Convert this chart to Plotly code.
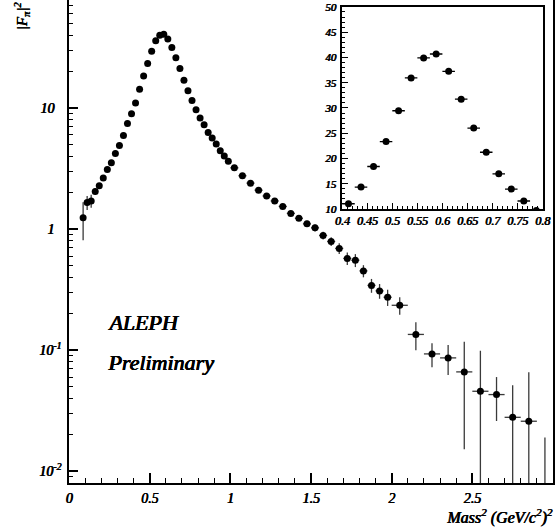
import plotly.graph_objects as go

# ---------------- data ----------------
mass2 = [0.0875, 0.1125, 0.1375, 0.1625, 0.1875, 0.2125, 0.2375, 0.2625, 0.2875, 0.3125,
         0.3375, 0.3625, 0.3875, 0.4125, 0.4375, 0.4625, 0.4875, 0.5125, 0.5375, 0.5625,
         0.5875, 0.6125, 0.6375, 0.6625, 0.6875, 0.7125, 0.7375, 0.7625, 0.7875, 0.8125,
         0.8375, 0.8625, 0.8875, 0.9125, 0.9375, 0.9625, 0.9875,
         1.025, 1.075, 1.125, 1.175, 1.225, 1.275, 1.325, 1.375, 1.425, 1.475,
         1.525, 1.575, 1.625, 1.675, 1.725, 1.775, 1.825, 1.875, 1.925, 1.975,
         2.05, 2.15, 2.25, 2.35, 2.45, 2.55, 2.65, 2.75, 2.85, 2.95]

half_bin = [0.0125] * 37 + [0.025] * 20 + [0.05] * 10

ff2 = [1.24, 1.66, 1.71, 2.05, 2.28, 2.64, 3.11, 3.53, 4.22, 4.92,
       5.95, 7.47, 8.97, 11.04, 14.33, 18.41, 23.34, 29.45, 35.95, 39.9,
       40.68, 37.25, 31.73, 26.02, 21.23, 16.96, 13.94, 11.58, 9.68, 8.27,
       7.28, 6.30, 5.65, 5.04, 4.44, 4.03, 3.63,
       3.21, 2.76, 2.40, 2.10, 1.88, 1.71, 1.54, 1.35, 1.23, 1.106,
       1.025, 0.887, 0.791, 0.693, 0.573, 0.554, 0.452, 0.343, 0.309, 0.274,
       0.235, 0.135, 0.0932, 0.0864, 0.0662, 0.0458, 0.0430, 0.0279, 0.0259, 0.004]

ff2_err = [0.43, 0.22, 0.21, 0.13, 0.12, 0.10, 0.10, 0.08, 0.08, 0.08,
           0.09, 0.10, 0.11, 0.14, 0.17, 0.22, 0.28, 0.35, 0.42, 0.47,
           0.48, 0.44, 0.38, 0.31, 0.26, 0.21, 0.17, 0.14, 0.12, 0.11,
           0.10, 0.09, 0.08, 0.08, 0.07, 0.07, 0.07,
           0.06, 0.055, 0.05, 0.05, 0.05, 0.05, 0.05, 0.05, 0.06, 0.065,
           0.07, 0.065, 0.065, 0.07, 0.067, 0.068, 0.052, 0.045, 0.043, 0.042,
           0.039, 0.035, 0.021, 0.024, 0.051, 0.053, 0.017, 0.0235, 0.040, 0.015]

# inset window (zoom on the rho peak)
inset_x_range = [0.4, 0.8]
inset_y_range = [10, 50]
inset_x_ticks = [0.4, 0.45, 0.5, 0.55, 0.6, 0.65, 0.7, 0.75, 0.8]
inset_x_labels = ["0.4", "0.45", "0.5", "0.55", "0.6", "0.65", "0.7", "0.75", "0.8"]
inset_y_ticks = [10, 15, 20, 25, 30, 35, 40, 45, 50]
inset_y_labels = ["10", "15", "20", "25", "30", "35", "40", "45", "50"]

y_tickvals = [0.01, 0.1, 1, 10]
y_ticktext = ["10<sup>-2</sup>", "10<sup>-1</sup>", "1&nbsp;&nbsp;", "10&nbsp;&nbsp;"]
x_tickvals = [0, 0.5, 1, 1.5, 2, 2.5, 3]
x_ticktext = ["0", "0.5", "1", "1.5", "2", "2.5", "3"]
y_minor = [m * 10 ** e for e in (-3, -2, -1, 0, 1) for m in range(2, 10)]

ins_idx = [i for i, v in enumerate(mass2) if inset_x_range[0] < v < inset_x_range[1]]
ins_x = [mass2[i] for i in ins_idx]
ins_y = [ff2[i] for i in ins_idx]
ins_dx = [half_bin[i] for i in ins_idx]
ins_dy = [ff2_err[i] for i in ins_idx]

# ---------------- figure ----------------
# Times-like italic; weight emulated with a tight text shadow (no bold-italic face installed)
FONT = "Liberation Serif"
EMB = "0.45px 0 0 #000, 0.9px 0 0 #000, 0.45px 0.3px 0 #000"
EMB_S = "0.4px 0 0 #000, 0.7px 0 0 #000"
fnt = lambda s, sh=EMB: dict(family=FONT, size=s, color="black", weight="normal",
                             style="italic", shadow=sh)
ERRC = "#3a3a3a"

fig = go.Figure()

fig.add_trace(go.Scatter(
    x=mass2, y=ff2, mode="markers",
    marker=dict(color="black", size=7),
    error_y=dict(type="data", array=ff2_err, color=ERRC, thickness=1.3, width=0),
    error_x=dict(type="data", array=half_bin, color=ERRC, thickness=1.3, width=0),
    xaxis="x", yaxis="y", showlegend=False,
))

fig.add_trace(go.Scatter(
    x=ins_x, y=ins_y, mode="markers",
    marker=dict(color="black", size=7),
    error_y=dict(type="data", array=ins_dy, color=ERRC, thickness=1.3, width=0),
    error_x=dict(type="data", array=ins_dx, color="black", thickness=1.3, width=0),
    xaxis="x2", yaxis="y2", showlegend=False,
))

fig.update_layout(
    width=555, height=528,
    margin=dict(l=69, r=2, t=0, b=45, autoexpand=False),
    paper_bgcolor="white", plot_bgcolor="white",
    font=fnt(13),
    xaxis=dict(
        range=[0, 3], showgrid=False, zeroline=False,
        showline=True, linecolor="black", linewidth=2,
        ticks="inside", ticklen=10, tickwidth=1.5, tickcolor="black",
        tickvals=x_tickvals, ticktext=x_ticktext, tickfont=fnt(14, EMB_S),
        minor=dict(ticks="inside", ticklen=5, tickwidth=1.2, tickcolor="black",
                   dtick=0.1, tick0=0, showgrid=False),
        ticklabelstandoff=1,
    ),
    yaxis=dict(
        type="log", range=[-2.097, 1.893], showgrid=False, zeroline=False,
        showline=True, linecolor="black", linewidth=2, mirror=True,
        ticks="inside", ticklen=9, tickwidth=1.5, tickcolor="black",
        tickvals=y_tickvals, ticktext=y_ticktext, tickfont=fnt(14, EMB_S),
        minor=dict(ticks="inside", ticklen=4, tickwidth=1.2, tickcolor="black",
                   tickvals=y_minor, showgrid=False),
        ticklabelstandoff=3,
    ),
    xaxis2=dict(
        domain=[0.564, 0.979], anchor="y2", range=[0.3995, 0.8005],
        showgrid=False, zeroline=False, showline=True, linecolor="black",
        linewidth=1.5, mirror=True,
        ticks="inside", ticklen=6, tickwidth=1, tickcolor="black",
        tickvals=inset_x_ticks, ticktext=inset_x_labels, tickfont=fnt(12, EMB_S),
        minor=dict(ticks="inside", ticklen=3, tickwidth=1, tickcolor="black",
                   dtick=0.01, tick0=0.4, showgrid=False),
        ticklabelstandoff=0, ticklabeloverflow="allow",
    ),
    yaxis2=dict(
        domain=[0.567, 0.986], anchor="x2", range=[9.97, 50.03],
        showgrid=False, zeroline=False, showline=True, linecolor="black",
        linewidth=1.5, mirror=True,
        ticks="inside", ticklen=6, tickwidth=1, tickcolor="black",
        tickvals=inset_y_ticks, ticktext=inset_y_labels, tickfont=fnt(11, EMB_S),
        minor=dict(ticks="inside", ticklen=3, tickwidth=1, tickcolor="black",
                   dtick=1, tick0=10, showgrid=False),
        ticklabelstandoff=2, ticklabeloverflow="allow",
    ),
    annotations=[
        dict(text="ALEPH", xref="paper", yref="paper", x=0.074, y=0.333,
             xanchor="left", yanchor="middle", showarrow=False, font=fnt(22)),
        dict(text="Preliminary", xref="paper", yref="paper", x=0.074, y=0.2505,
             xanchor="left", yanchor="middle", showarrow=False, font=fnt(22)),
        dict(text="Mass<sup>2</sup> (GeV/c<sup>2</sup>)<sup>2</sup>", xref="paper", yref="paper",
             x=1.004, y=-0.07, xanchor="right", yanchor="middle", showarrow=False,
             font=fnt(16, EMB_S)),
        dict(text="|F<sub>π</sub>|<sup>2</sup>", xref="paper", yref="paper",
             x=-0.099, y=1.0, xanchor="center", yanchor="top", textangle=-90,
             showarrow=False, font=fnt(15, EMB_S)),
    ],
)

fig.write_html("out.html")
